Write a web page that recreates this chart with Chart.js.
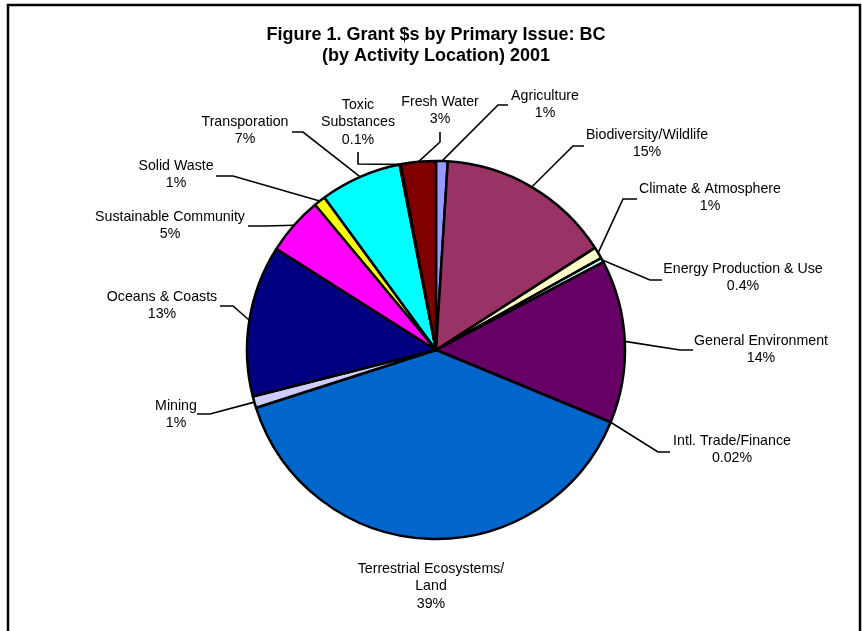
<!DOCTYPE html>
<html><head><meta charset="utf-8">
<script src="https://cdn.jsdelivr.net/npm/chart.js@4/dist/chart.umd.min.js"></script>
<style>html,body{margin:0;padding:0;background:#fff;}#wrap{width:862px;height:631px;position:relative;}</style>
</head><body><div id="wrap"><canvas id="c" width="862" height="631"></canvas></div>
<script>
// ---- data ----
const categories = [
  ["Agriculture"], ["Biodiversity/Wildlife"], ["Climate & Atmosphere"], ["Energy Production & Use"],
  ["General Environment"], ["Intl. Trade/Finance"], ["Terrestrial Ecosystems/", "Land"], ["Mining"],
  ["Oceans & Coasts"], ["Sustainable Community"], ["Solid Waste"], ["Transporation"],
  ["Toxic", "Substances"], ["Fresh Water"]
];
const shares = [1, 15, 1, 0.4, 14, 0.02, 39, 1, 13, 5, 1, 7, 0.1, 3];
const titleLines = ["Figure 1. Grant $s by Primary Issue: BC", "(by Activity Location) 2001"];

// ---- style ----
const colors = ["#9999FF","#993366","#FFFFCC","#CCFFFF","#660066","#FF8080","#0066CC",
                "#CCCCFF","#000080","#FF00FF","#FFFF00","#00FFFF","#800080","#800000"];
const FONT = "'Liberation Sans', Arial, sans-serif";

// callout layout, offsets from pie centre in px: [elbow, end] of the leader and text anchor
const callouts = [
  {pts: [[62,-245],[72,-245]],   text: [109,-254]},
  {pts: [[137,-204],[148,-204]], text: [211,-215]},
  {pts: [[187,-151],[201,-151]], text: [274,-161]},
  {pts: [[214,-70],[226,-70]],   text: [307,-81]},
  {pts: [[244,0],[257,0]],       text: [325,-9]},
  {pts: [[222,102],[234,102]],   text: [296,91]},
  {pts: [],                      text: [-5,219]},
  {pts: [[-226,64],[-239,64]],   text: [-260,56]},
  {pts: [[-203,-44],[-216,-44]], text: [-274,-53]},
  {pts: [[-171,-124],[-188,-124]], text: [-266,-133]},
  {pts: [[-203,-174],[-220,-174]], text: [-260,-184]},
  {pts: [[-133,-218],[-144,-218]], text: [-191,-228]},
  {pts: [[-78,-186],[-78,-198]], text: [-78,-245]},
  {pts: [[4,-208],[4,-218]],     text: [4,-248]}
];

const framePlugin = {
  id: 'frame',
  beforeDraw(chart) {
    const ctx = chart.ctx;
    ctx.save();
    ctx.fillStyle = '#fff';
    ctx.fillRect(0, 0, chart.width, chart.height);
    ctx.strokeStyle = '#000';
    ctx.lineWidth = 2.5;
    ctx.strokeRect(8, 5, 852, 700);
    ctx.restore();
  }
};

const calloutPlugin = {
  id: 'callouts',
  afterDatasetsDraw(chart) {
    const ctx = chart.ctx;
    const meta = chart.getDatasetMeta(0);
    ctx.save();
    meta.data.forEach((arc, i) => {
      const p = arc.getProps(['x','y','startAngle','endAngle','outerRadius'], true);
      const mid = (p.startAngle + p.endAngle) / 2;
      const c = callouts[i];
      if (c.pts.length) {
        ctx.beginPath();
        ctx.moveTo(p.x + Math.cos(mid) * p.outerRadius, p.y + Math.sin(mid) * p.outerRadius);
        c.pts.forEach(q => ctx.lineTo(p.x + q[0], p.y + q[1]));
        ctx.strokeStyle = '#000';
        ctx.lineWidth = 1.6;
        ctx.stroke();
      }
      const lines = categories[i].concat([shares[i] + '%']);
      ctx.fillStyle = '#000';
      ctx.font = '14.2px ' + FONT;
      ctx.textAlign = 'center';
      ctx.textBaseline = 'middle';
      lines.forEach((t, k) => ctx.fillText(t, p.x + c.text[0], p.y + c.text[1] + k * 17.5));
    });
    ctx.restore();
  }
};

new Chart(document.getElementById('c'), {
  type: 'pie',
  data: {
    labels: categories,
    datasets: [{
      data: shares,
      backgroundColor: colors,
      borderColor: '#000',
      borderWidth: 2.5
    }]
  },
  options: {
    responsive: false,
    animation: false,
    radius: 189,
    layout: {padding: {left: 10, right: 0, top: 0, bottom: 0}},
    plugins: {
      legend: {display: false},
      tooltip: {enabled: false},
      title: {
        display: true,
        text: titleLines,
        color: '#000',
        font: {family: FONT, size: 18, weight: 'bold', lineHeight: 21/18},
        padding: {top: 25, bottom: 2}
      }
    }
  },
  plugins: [framePlugin, calloutPlugin]
});
</script>
</body></html>
